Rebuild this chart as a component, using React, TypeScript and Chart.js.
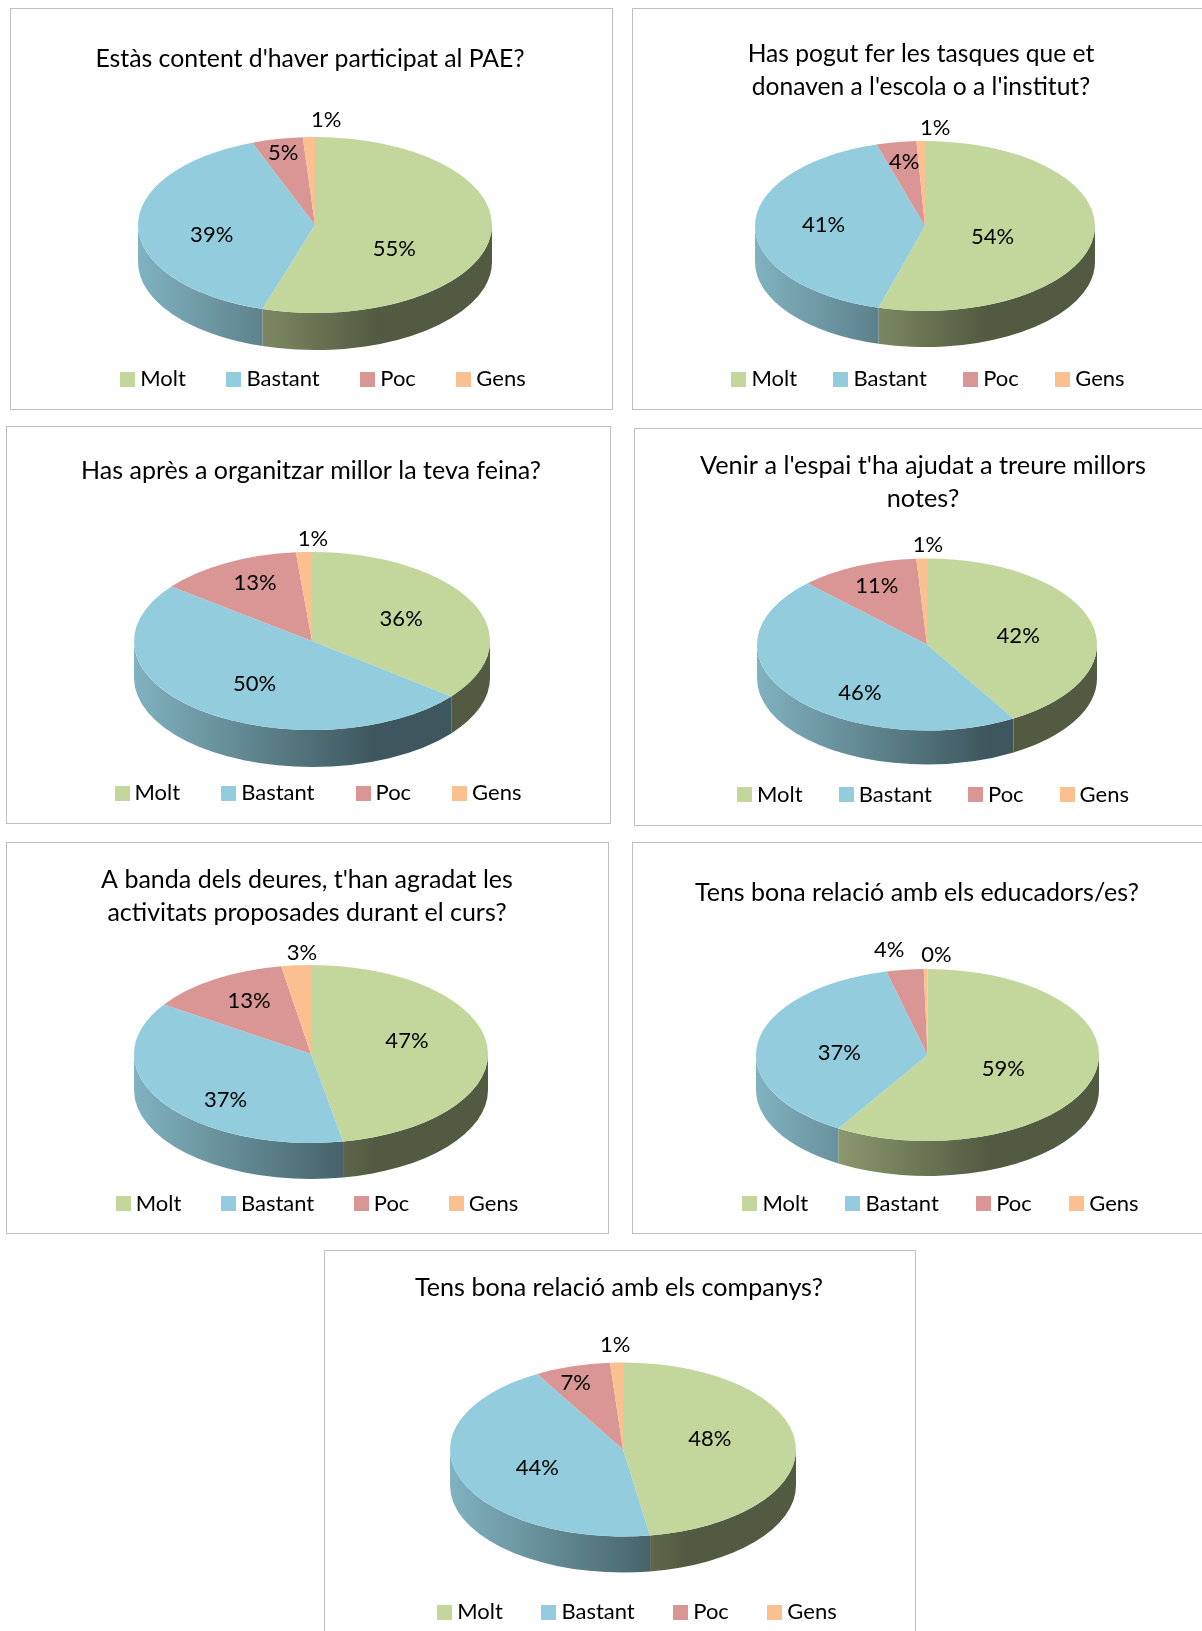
import React, { useEffect, useRef } from "react";
import { Chart, registerables } from "chart.js";

Chart.register(...registerables);

const categories = ["Molt", "Bastant", "Poc", "Gens"];
const sliceColors = ["#C3D69B", "#93CDDD", "#D99694", "#FAC090"];

const titles: string[][] = [
  ["Estàs content d'haver participat al PAE?"],
  ["Has pogut fer les tasques que et", "donaven a l'escola o a l'institut?"],
  ["Has après a organitzar millor la teva feina?"],
  ["Venir a l'espai t'ha ajudat a treure millors", "notes?"],
  ["A banda dels deures, t'han agradat les", "activitats proposades durant el curs?"],
  ["Tens bona relació amb els educadors/es?"],
  ["Tens bona relació amb els companys?"],
];

const content = [54.8, 39.45, 4.65, 1.1];
const tasks = [54.4, 41, 3.8, 0.8];
const organise = [35.7, 49.8, 13.05, 1.45];
const grades = [41.5, 46.1, 11.4, 1];
const activities = [47.1, 37.3, 12.9, 2.7];
const educators = [58.7, 37.45, 3.5, 0.35];
const classmates = [47.5, 44.25, 7.05, 1.2];
const seriesValues = [content, tasks, organise, grades, activities, educators, classmates];

// Per-chart placement: frame, pie ellipse, title and legend anchors (page pixels).
const layouts = [
  { box: [10, 8, 603, 402], pie: [315, 225, 177, 88, 37], title: [310, 59], titleSize: 24.8, legend: [323, 379], gap: 40.5 },
  { box: [632, 8, 600, 402], pie: [925, 226, 170, 85, 36], title: [921, 54], titleSize: 24.6, legend: [928, 379], gap: 36.4 },
  { box: [6, 426, 605, 398], pie: [312, 641, 178, 89, 37], title: [311, 471], titleSize: 25, legend: [318, 793], gap: 41 },
  { box: [634, 428, 600, 398], pie: [927, 644.5, 170, 86, 34], title: [923, 466], titleSize: 25.3, legend: [933, 794.5], gap: 36 },
  { box: [6, 842, 603, 392], pie: [311, 1054, 177, 89, 36], title: [307, 880], titleSize: 25, legend: [317, 1203.5], gap: 39.5 },
  { box: [632, 842, 600, 392], pie: [927.5, 1055, 171.5, 86, 35], title: [917, 892.5], titleSize: 25, legend: [940.5, 1203.5], gap: 37.4 },
  { box: [324, 1250, 592, 420], pie: [623, 1449.5, 173, 87, 36], title: [619, 1288], titleSize: 25.1, legend: [637, 1612], gap: 38.5 },
];

// Fine adjustment of each percentage label from its default spot on the slice.
const labelNudges = [
  [[-17, 16.5], [-6, 8], [-11, -24.5], [18, -6]],
  [[-25, 4], [-8, -1.5], [-5, -18.5], [15, -2.5]],
  [[1, -1], [3, 4], [-10, -15.5], [10, -2]],
  [[1, 3.5], [7, 20], [-12, -15], [7, -2]],
  [[-1, -8.5], [-4, 19.5], [-9, -12.5], [8, -1]],
  [[-15, 1.5], [5, 5.5], [-26, -58.5], [11, -2.5]],
  [[-8, -6.5], [4, 3], [-19.5, -21], [-0.5, -6]],
];

const FONT = "Lato, Carlito, sans-serif";
const TITLE_LINE = 33;
const LEGEND_SIZE = 22;
const LABEL_SIZE = 22;
const SWATCH = 15;
// Legend item marker width that Chart.js reserves; the swatch image overhangs it.
const MARKER_WIDTH = 3;
const SWATCH_OVERHANG = (SWATCH - MARKER_WIDTH) / 2;

function shade(hex: string, f: number) {
  const n = parseInt(hex.slice(1), 16);
  const c = [(n >> 16) & 255, (n >> 8) & 255, n & 255].map((v) => Math.round(v * f));
  return `rgb(${c[0]},${c[1]},${c[2]})`;
}

function makeSwatch(color: string) {
  const c = document.createElement("canvas");
  c.width = SWATCH;
  c.height = SWATCH;
  const g = c.getContext("2d") as CanvasRenderingContext2D;
  g.fillStyle = color;
  g.fillRect(0, 0, SWATCH, SWATCH);
  return c;
}

function pie3dPlugin(index: number) {
  const { box, pie, title, legend, gap } = layouts[index];
  const [bx, by] = box;
  const [pcx, pcy, rx, ry, depth] = pie;
  const cx = pcx - bx;
  const cy = pcy - by;
  return {
    id: "pie3d",
    afterLayout(chart: any) {
      const t = chart.titleBlock;
      if (t) {
        const w = t.width;
        t.left = title[0] - bx - w / 2;
        t.right = title[0] - bx + w / 2;
        t.top = title[1] - by - TITLE_LINE / 2;
        t.bottom = t.top + t.height;
      }
      const l = chart.legend;
      if (l) {
        const w = l.width;
        const centre = legend[0] - bx + SWATCH_OVERHANG / 2;
        l.left = centre - w / 2;
        l.right = centre + w / 2;
        l.top = legend[1] - by - (gap + SWATCH_OVERHANG) - LEGEND_SIZE / 2;
        l.bottom = l.top + l.height;
      }
    },
    beforeDatasetsDraw(chart: any) {
      const ctx = chart.ctx;
      const arcs = chart.getDatasetMeta(0).data;
      ctx.save();
      arcs.forEach((arc: any, i: number) => {
        const a = Math.max(arc.startAngle, 0);
        const b = Math.min(arc.endAngle, Math.PI);
        if (b <= a) return;
        const base = sliceColors[i];
        const g = ctx.createLinearGradient(cx - rx, 0, cx + rx, 0);
        g.addColorStop(0, shade(base, 0.87));
        g.addColorStop(0.68, shade(base, 0.42));
        g.addColorStop(1, shade(base, 0.42));
        ctx.fillStyle = g;
        ctx.beginPath();
        ctx.ellipse(cx, cy, rx, ry, 0, a, b);
        ctx.ellipse(cx, cy + depth, rx, ry, 0, b, a, true);
        ctx.closePath();
        ctx.fill();
      });
      ctx.restore();
      const first = arcs[0];
      ctx.save();
      ctx.translate(cx, cy);
      ctx.scale(rx / first.outerRadius, ry / first.outerRadius);
      ctx.translate(-first.x, -first.y);
    },
    afterDatasetsDraw(chart: any) {
      const ctx = chart.ctx;
      ctx.restore();
      const arcs = chart.getDatasetMeta(0).data;
      const values = seriesValues[index];
      ctx.save();
      ctx.fillStyle = "#000";
      ctx.font = `${LABEL_SIZE}px ${FONT}`;
      ctx.textAlign = "center";
      ctx.textBaseline = "middle";
      arcs.forEach((arc: any, i: number) => {
        const mid = (arc.startAngle + arc.endAngle) / 2;
        const f = values[i] <= 3 ? 1.13 : 0.55;
        const [dx, dy] = labelNudges[index][i];
        const x = cx + f * rx * Math.cos(mid) + dx;
        const y = cy + f * ry * Math.sin(mid) + dy;
        ctx.fillText(`${Math.round(values[i])}%`, x, y);
      });
      ctx.restore();
    },
  };
}

function PieCard({ index }: { index: number }) {
  const ref = useRef<HTMLCanvasElement>(null);
  const { box, titleSize, gap } = layouts[index];
  const [x, y, w, h] = box;
  useEffect(() => {
    const chart = new Chart(ref.current as HTMLCanvasElement, {
      type: "pie",
      data: {
        labels: categories,
        datasets: [
          {
            data: seriesValues[index],
            backgroundColor: sliceColors,
            borderWidth: 0,
            clip: false,
          } as any,
        ],
      },
      options: {
        animation: false,
        responsive: false,
        plugins: {
          tooltip: { enabled: false },
          title: {
            display: true,
            text: titles[index],
            color: "#000",
            padding: 0,
            font: { family: FONT, size: titleSize, weight: "normal", lineHeight: TITLE_LINE / titleSize },
          },
          legend: {
            position: "bottom",
            labels: {
              color: "#000",
              usePointStyle: true,
              pointStyleWidth: MARKER_WIDTH,
              boxHeight: SWATCH,
              padding: gap + SWATCH_OVERHANG,
              font: { family: FONT, size: LEGEND_SIZE },
              generateLabels: (c: any) =>
                c.data.labels.map((text: string, i: number) => ({
                  text,
                  index: i,
                  fontColor: "#000",
                  fillStyle: sliceColors[i],
                  strokeStyle: sliceColors[i],
                  lineWidth: 0,
                  hidden: false,
                  pointStyle: makeSwatch(sliceColors[i]),
                })),
            },
          },
        },
      },
      plugins: [pie3dPlugin(index)],
    } as any);
    return () => chart.destroy();
  }, [index]);
  return (
    <div
      style={{
        position: "absolute",
        left: x,
        top: y,
        width: w,
        height: h,
        boxSizing: "border-box",
        border: "1px solid #bfbfbf",
        background: "#fff",
      }}
    >
      <canvas
        ref={ref}
        width={w}
        height={h}
        style={{ position: "absolute", left: -1, top: -1, display: "block" }}
      />
    </div>
  );
}

export default function App() {
  return (
    <div
      style={{
        position: "absolute",
        left: 0,
        top: 0,
        width: 1202,
        height: 1631,
        overflow: "hidden",
        background: "#fff",
      }}
    >
      {layouts.map((_, i) => (
        <PieCard key={i} index={i} />
      ))}
    </div>
  );
}
